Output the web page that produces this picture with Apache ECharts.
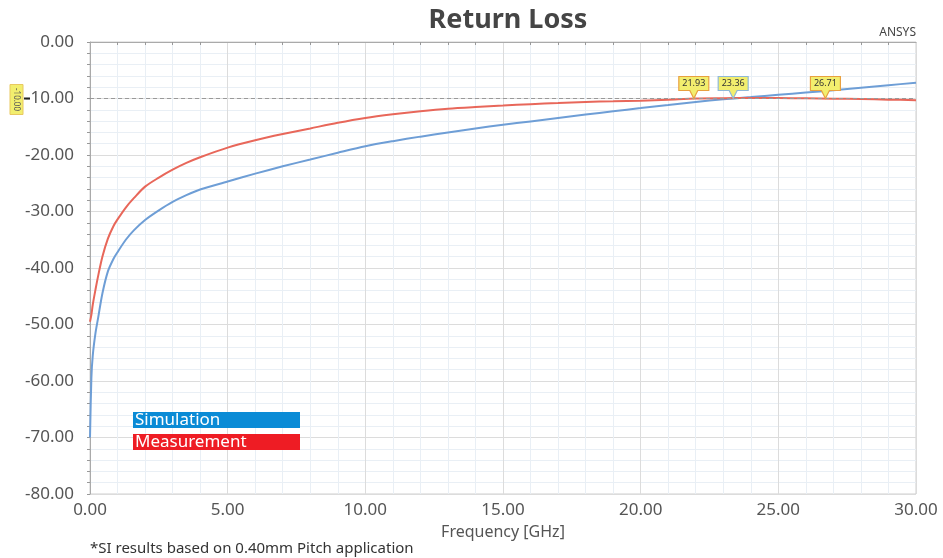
<!DOCTYPE html>
<html>
<head>
<meta charset="utf-8">
<script src="https://cdn.jsdelivr.net/npm/echarts@6/dist/echarts.min.js"></script>
<style>
  html, body { margin: 0; padding: 0; background: #fff; }
  #main { width: 943px; height: 558px; }
</style>
</head>
<body>
<div id="main"></div>
<script>
// frequency points (GHz)
var freq = [0, 0.05, 0.1, 0.2, 0.3, 0.45, 0.65, 0.85, 1.0, 1.3, 1.6, 2.0, 2.5, 3.0, 3.5, 4.0,
  5, 6, 7, 8, 9, 10, 11, 12, 13, 14, 15, 16, 17, 18, 19, 20, 21, 22, 23, 24, 25, 26, 27, 28, 29, 30];
// return loss values (dB)
var simulation = [-70, -59.5, -55.5, -51.5, -48.7, -44.5, -40.6, -38.4, -37.2, -35.0, -33.3, -31.5, -29.8, -28.3, -27.1, -26.1,
  -24.7, -23.3, -22.0, -20.8, -19.6, -18.45, -17.55, -16.75, -16.0, -15.3, -14.65, -14.05, -13.45, -12.85, -12.25, -11.7,
  -11.15, -10.6, -10.15, -9.75, -9.35, -8.95, -8.55, -8.1, -7.65, -7.2];
var measurement = [-49.5, -48.3, -46.5, -43.8, -41.3, -38.0, -34.8, -32.6, -31.4, -29.3, -27.6, -25.6, -24.0, -22.6, -21.4, -20.4,
  -18.7, -17.4, -16.3, -15.3, -14.3, -13.45, -12.8, -12.25, -11.8, -11.5, -11.25, -11.0, -10.8, -10.6, -10.5, -10.38,
  -10.2, -10.0, -9.95, -9.92, -9.93, -9.96, -10.03, -10.1, -10.2, -10.3];
// threshold and marker crossings
var threshold = -10;
var markerFreqs = [21.93, 23.36, 26.71];
var markerBorders = ['#e8a040', '#8fb8d8', '#e8a040'];

var font = '"Noto Sans", "Open Sans", sans-serif';

function pairs(xs, ys) {
  return xs.map(function (x, i) { return [x, ys[i]]; });
}

var myChart = echarts.init(document.getElementById('main'));

var option = {
  animation: false,
  title: {
    text: 'Return Loss',
    left: 503,
    textAlign: 'center',
    top: 2,
    textStyle: { fontFamily: font, fontSize: 27, fontWeight: 'bold', color: '#454545' }
  },
  grid: {
    left: 90, right: 27, top: 42, bottom: 64,
    show: true, borderColor: '#cfcfcf', borderWidth: 1
  },
  xAxis: {
    type: 'value',
    min: 0, max: 30, interval: 5,
    name: 'Frequency [GHz]',
    nameLocation: 'middle',
    nameGap: 30,
    nameTextStyle: { fontFamily: font, fontSize: 16, color: '#555' },
    axisLine: { lineStyle: { color: '#aaa' } },
    axisTick: { show: false },
    minorTick: { show: true, splitNumber: 5, length: 3, lineStyle: { color: '#999' } },
    axisLabel: {
      fontFamily: font, fontSize: 17, color: '#555', margin: 8,
      formatter: function (v) { return v.toFixed(2); }
    },
    splitLine: { show: true, lineStyle: { color: '#dcdcdc' } },
    minorSplitLine: { show: true, lineStyle: { color: '#e9eff5' } }
  },
  yAxis: {
    type: 'value',
    min: -80, max: 0, interval: 10,
    axisLine: { show: true, lineStyle: { color: '#aaa' } },
    axisTick: { show: true, length: 3, lineStyle: { color: '#999' } },
    minorTick: { show: true, splitNumber: 5, length: 3, lineStyle: { color: '#999' } },
    axisLabel: {
      fontFamily: font, fontSize: 17, color: '#555', margin: 16,
      formatter: function (v) { return v.toFixed(2); }
    },
    splitLine: { show: true, lineStyle: { color: '#dcdcdc' } },
    minorSplitLine: { show: true, lineStyle: { color: '#e9eff5' } }
  },
  series: [
    {
      name: 'Simulation',
      type: 'line',
      data: pairs(freq, simulation),
      smooth: 0.3,
      showSymbol: false,
      lineStyle: { color: '#6e9ed6', width: 2 },
      z: 3
    },
    {
      name: 'Measurement',
      type: 'line',
      data: pairs(freq, measurement),
      smooth: 0.3,
      showSymbol: false,
      lineStyle: { color: '#e8675a', width: 2 },
      markLine: {
        silent: true,
        symbol: 'none',
        label: { show: false },
        lineStyle: { color: '#999', type: [4, 3], width: 1 },
        data: [{ yAxis: threshold }]
      },
      z: 4
    },
    {
      name: 'markers',
      type: 'scatter',
      data: markerFreqs.map(function (f, i) {
        return {
          value: [f, threshold],
          itemStyle: { borderColor: markerBorders[i] }
        };
      }),
      symbol: 'path://M0,0 L30,0 L30,14 L19,14 L15,22 L11,14 L0,14 Z',
      symbolSize: [30, 22],
      symbolOffset: [0, -11],
      symbolKeepAspect: false,
      itemStyle: { color: '#f2ee6e', borderWidth: 1, opacity: 1 },
      label: {
        show: true,
        position: 'inside',
        offset: [0, -4],
        fontFamily: font,
        fontSize: 9,
        color: '#333',
        formatter: function (p) { return p.value[0].toFixed(2); }
      },
      z: 10
    }
  ],
  graphic: [
    {
      type: 'text',
      right: 27,
      top: 27,
      style: { text: 'ANSYS', fontFamily: font, fontSize: 12, fill: '#444' }
    },
    {
      type: 'text',
      left: 90,
      top: 541,
      style: { text: '*SI results based on 0.40mm Pitch application', fontFamily: font, fontSize: 15, fill: '#333' }
    }
  ]
};

myChart.setOption(option);

// legend boxes and the threshold tag on the y axis
var legendItems = [
  { name: 'Simulation', color: '#0a8bd6' },
  { name: 'Measurement', color: '#ee1c24' }
];
var extra = [];
legendItems.forEach(function (item, i) {
  var top = 412 + i * 22;
  extra.push({
    type: 'rect',
    shape: { x: 133, y: top, width: 167, height: 16 },
    style: { fill: item.color },
    z: 20
  });
  extra.push({
    type: 'text',
    x: 135,
    y: top + 8,
    style: { text: item.name, fontFamily: font, fontSize: 17, fill: '#fff', verticalAlign: 'middle' },
    z: 21
  });
});
var ty = myChart.convertToPixel({ yAxisIndex: 0 }, threshold);
extra.push({
  type: 'rect',
  shape: { x: 10, y: ty - 14, width: 13, height: 30 },
  style: { fill: '#f2ee6e', stroke: '#e8c860' },
  z: 20
});
extra.push({
  type: 'text',
  x: 16.5,
  y: ty + 1,
  rotation: -Math.PI / 2,
  style: { text: threshold.toFixed(2), fontFamily: font, fontSize: 8, fill: '#555', align: 'center', verticalAlign: 'middle' },
  z: 21
});
extra.push({
  type: 'line',
  shape: { x1: 24, y1: ty, x2: 30, y2: ty },
  style: { stroke: '#222', lineWidth: 2 },
  z: 21
});
myChart.setOption({ graphic: option.graphic.concat(extra) });
</script>
</body>
</html>
